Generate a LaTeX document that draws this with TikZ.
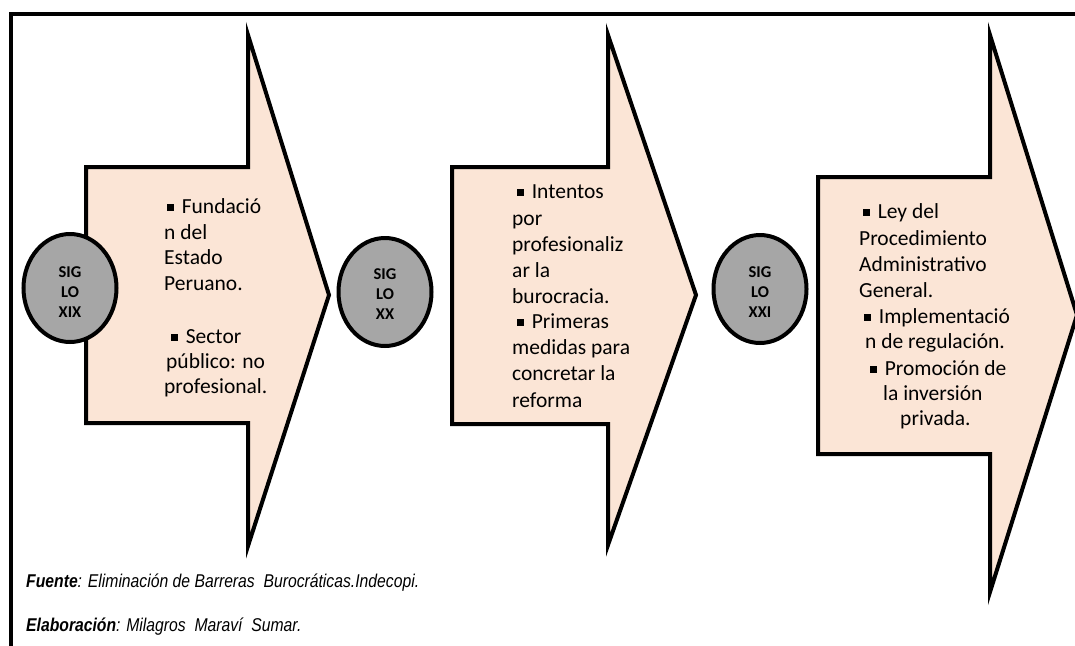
\documentclass[tikz,border=0pt]{standalone}
\usepackage{fontspec}
\setmainfont{Carlito}
\newfontfamily\notafont[FakeStretch=0.85]{Liberation Sans}
\usetikzlibrary{shapes.geometric}
\definecolor{durazno}{HTML}{FBE5D6}
\definecolor{gris}{HTML}{A6A6A6}
\newcommand{\bul}{\rule[0.1em]{0.3em}{0.3em}\hspace{0.38em}}
\begin{document}
\begin{tikzpicture}[x=1pt,y=-1pt,
        marco/.style  = {draw, line width=4pt},
        flecha/.style = {draw, line width=4pt, fill=durazno},
        siglo/.style  = {ellipse, draw, line width=4pt, fill=gris, inner sep=0pt,
                         minimum width=93pt, minimum height=108pt},
        sigtxt/.style = {align=center, inner sep=0pt, font=\fontsize{16.5}{20}\selectfont\bfseries},
        linea/.style  = {anchor=base west, inner sep=0pt, font=\fontsize{21.5}{26}\selectfont},
        nota/.style   = {anchor=base west, inner sep=0pt, font=\notafont\fontsize{18.5}{22}\selectfont\itshape}
    ]
        \useasboundingbox (0,0) rectangle (1075,645);
        \draw[marco] (11,650) |- (1080,13.5);
        % flechas
        \draw[flecha] (86,167) -- (248,167) -- (248,35) -- (329,295) -- (248,546) -- (248,423) -- (86,423) -- cycle;
        \draw[flecha] (452,167) -- (608,167) -- (608,35) -- (696,295) -- (608,545) -- (608,424) -- (452,424) -- cycle;
        \draw[flecha] (818,177) -- (990,177) -- (990,35) -- (1077,315) -- (990,592) -- (990,454) -- (818,454) -- cycle;
        % siglos
        \node[siglo] (c19) at (70,288) {};
        \node[siglo] (c20) at (385,292) {};
        \node[siglo] (c21) at (760,289) {};
        \node[sigtxt] (s19) at (70,292.5) {SIG\\LO\\XIX};
        \node[sigtxt] (s20) at (385,294) {SIG\\LO\\XX};
        \node[sigtxt] (s21) at (760,292.5) {SIG\\LO\\XXI};
        % textos
        \foreach \dx/\y/\txt [count=\i] in {3/213/{\bul Fundació}, 0/239/n del, 0/264/Estado,
                0/290/Peruano., 7/343/{\bul Sector}, 2/368/público: no, 0/393/profesional.}
            \node[linea] (fa-\i) at (164+\dx,\y) {\txt};
        \foreach \dx/\y/\txt [count=\i] in {5/198/{\bul Intentos}, 0/225/por, 0/251/profesionaliz,
                0/277/ar la, 0/303/burocracia., 5/328/{\bul Primeras}, 0/354/medidas para,
                0/380/concretar la, 0/407/reforma}
            \node[linea] (fb-\i) at (512+\dx,\y) {\txt};
        \foreach \dx/\y/\txt [count=\i] in {4/218/{\bul Ley del}, 0/245/Procedimiento,
                0/271/Administrativo, 0/297/General., 5/323/{\bul Implementació},
                6/348/n de regulación., 11/375/{\bul Promoción de}, 24/400/la inversión, 41/425/privada.}
            \node[linea] (fc-\i) at (859+\dx,\y) {\txt};
        % fuente
        \node[nota] (fuente) at (26,587) {\textbf{Fuente}: Eliminación de Barreras~ Burocráticas.Indecopi.};
        \node[nota] (elab) at (26,631) {\textbf{Elaboración}: Milagros~ Maraví~ Sumar.};
    \end{tikzpicture}
\end{document}
